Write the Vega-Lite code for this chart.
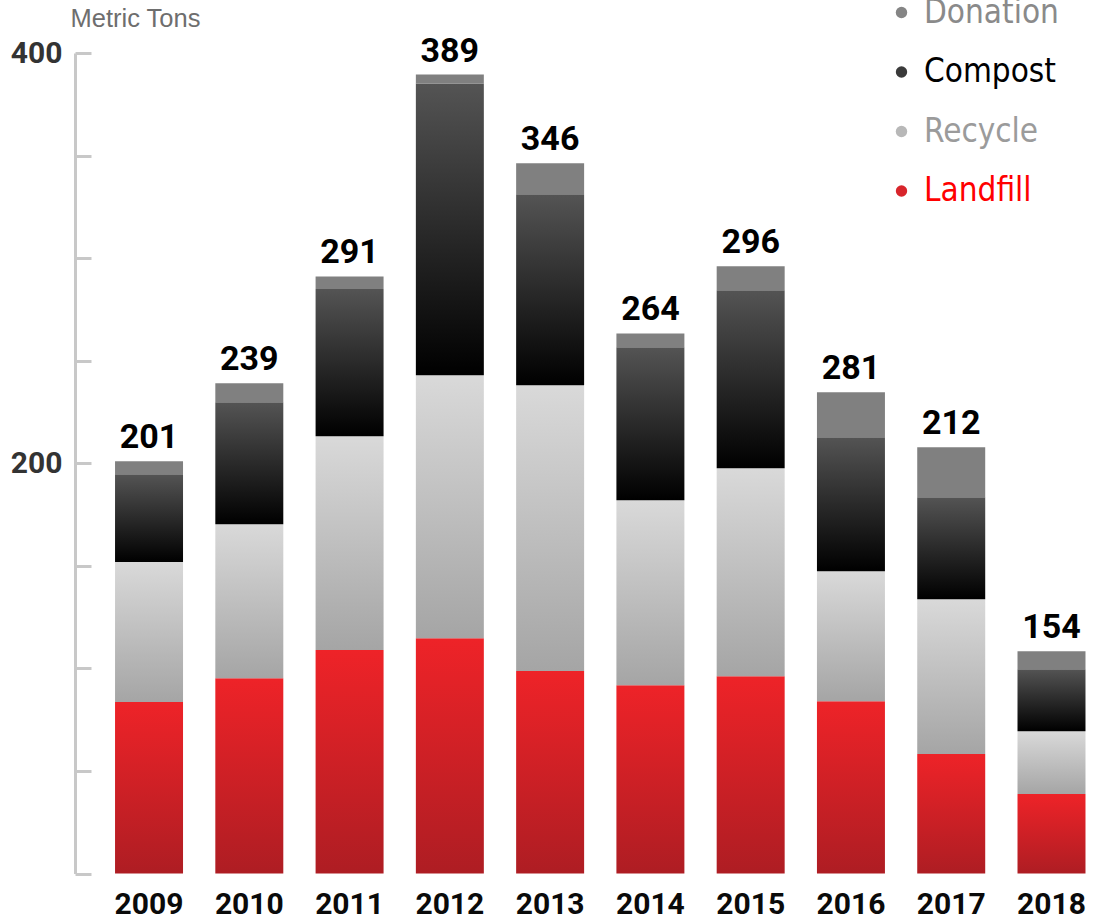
{
  "$schema": "https://vega.github.io/schema/vega-lite/v6.json",
  "width": 1025,
  "height": 820.5,
  "autosize": {"type": "none"},
  "padding": {"left": 75, "top": 53, "right": 5, "bottom": 46.5},
  "datasets": {
    "segments": [
      {"year": "2009", "type": "Landfill", "order": 1, "value": 83.6},
      {"year": "2009", "type": "Recycle", "order": 2, "value": 68.2},
      {"year": "2009", "type": "Compost", "order": 3, "value": 42.8},
      {"year": "2009", "type": "Donation", "order": 4, "value": 6.4},
      {"year": "2010", "type": "Landfill", "order": 1, "value": 95.2},
      {"year": "2010", "type": "Recycle", "order": 2, "value": 75.1},
      {"year": "2010", "type": "Compost", "order": 3, "value": 59.4},
      {"year": "2010", "type": "Donation", "order": 4, "value": 9.3},
      {"year": "2011", "type": "Landfill", "order": 1, "value": 108.9},
      {"year": "2011", "type": "Recycle", "order": 2, "value": 104.3},
      {"year": "2011", "type": "Compost", "order": 3, "value": 71.7},
      {"year": "2011", "type": "Donation", "order": 4, "value": 6.2},
      {"year": "2012", "type": "Landfill", "order": 1, "value": 114.7},
      {"year": "2012", "type": "Recycle", "order": 2, "value": 128.2},
      {"year": "2012", "type": "Compost", "order": 3, "value": 142.2},
      {"year": "2012", "type": "Donation", "order": 4, "value": 4.4},
      {"year": "2013", "type": "Landfill", "order": 1, "value": 98.7},
      {"year": "2013", "type": "Recycle", "order": 2, "value": 139.3},
      {"year": "2013", "type": "Compost", "order": 3, "value": 93.1},
      {"year": "2013", "type": "Donation", "order": 4, "value": 15.1},
      {"year": "2014", "type": "Landfill", "order": 1, "value": 91.8},
      {"year": "2014", "type": "Recycle", "order": 2, "value": 90.2},
      {"year": "2014", "type": "Compost", "order": 3, "value": 74.5},
      {"year": "2014", "type": "Donation", "order": 4, "value": 6.8},
      {"year": "2015", "type": "Landfill", "order": 1, "value": 96.2},
      {"year": "2015", "type": "Recycle", "order": 2, "value": 101.4},
      {"year": "2015", "type": "Compost", "order": 3, "value": 86.7},
      {"year": "2015", "type": "Donation", "order": 4, "value": 11.7},
      {"year": "2016", "type": "Landfill", "order": 1, "value": 84.0},
      {"year": "2016", "type": "Recycle", "order": 2, "value": 63.4},
      {"year": "2016", "type": "Compost", "order": 3, "value": 65.3},
      {"year": "2016", "type": "Donation", "order": 4, "value": 21.9},
      {"year": "2017", "type": "Landfill", "order": 1, "value": 58.2},
      {"year": "2017", "type": "Recycle", "order": 2, "value": 75.5},
      {"year": "2017", "type": "Compost", "order": 3, "value": 49.7},
      {"year": "2017", "type": "Donation", "order": 4, "value": 24.4},
      {"year": "2018", "type": "Landfill", "order": 1, "value": 38.7},
      {"year": "2018", "type": "Recycle", "order": 2, "value": 30.7},
      {"year": "2018", "type": "Compost", "order": 3, "value": 30.2},
      {"year": "2018", "type": "Donation", "order": 4, "value": 8.8}
    ],
    "totals": [
      {"year": "2009", "label": "201"},
      {"year": "2010", "label": "239"},
      {"year": "2011", "label": "291"},
      {"year": "2012", "label": "389"},
      {"year": "2013", "label": "346"},
      {"year": "2014", "label": "264"},
      {"year": "2015", "label": "296"},
      {"year": "2016", "label": "281"},
      {"year": "2017", "label": "212"},
      {"year": "2018", "label": "154"}
    ]
  },
  "data": {"name": "segments"},
  "layer": [
    {
      "transform": [
        {
          "stack": "value",
          "groupby": ["year"],
          "sort": [{"field": "order", "order": "ascending"}],
          "as": ["v0", "v1"]
        }
      ],
      "encoding": {
        "x": {
          "field": "year",
          "type": "ordinal",
          "title": null,
          "scale": {"paddingInner": 0.322, "paddingOuter": 0.272, "align": 0.734},
          "axis": {
            "title": null,
            "domain": false,
            "ticks": false,
            "labelAngle": 0,
            "labelFont": "Roboto",
            "labelFontWeight": "bold",
            "labelFontSize": 30,
            "labelColor": "#0a0a0a",
            "labelPadding": 16
          }
        },
        "y": {
          "field": "v1",
          "type": "quantitative",
          "title": "Metric Tons",
          "scale": {"domain": [0, 400], "nice": false},
          "axis": {
            "values": [0, 50, 100, 150, 200, 250, 300, 350, 400],
            "labelExpr": "datum.value == 200 || datum.value == 400 ? datum.label : ''",
            "grid": false,
            "domainColor": "#c8c8c8",
            "domainWidth": 3,
            "tickColor": "#c8c8c8",
            "tickWidth": 3,
            "tickSize": -16,
            "labelFont": "Roboto",
            "labelFontWeight": "bold",
            "labelFontSize": 30,
            "labelColor": "#333333",
            "labelPadding": 29,
            "labelBaseline": "middle",
            "title": "Metric Tons",
            "titleAngle": 0,
            "titleX": -5,
            "titleY": -27,
            "titleAlign": "left",
            "titleBaseline": "alphabetic",
            "titleFont": "Liberation Sans",
            "titleFontSize": 25.5,
            "titleFontWeight": "normal",
            "titleColor": "#6e6e6e"
          }
        },
        "y2": {"field": "v0"}
      },
      "layer": [
        {
          "transform": [{"filter": "datum.type === 'Landfill'"}],
          "mark": {
            "type": "bar",
            "fill": {
              "gradient": "linear", "x1": 0, "y1": 0, "x2": 0, "y2": 1,
              "stops": [{"offset": 0, "color": "#ee2328"}, {"offset": 1, "color": "#ae1d23"}]
            }
          }
        },
        {
          "transform": [{"filter": "datum.type === 'Recycle'"}],
          "mark": {
            "type": "bar",
            "fill": {
              "gradient": "linear", "x1": 0, "y1": 0, "x2": 0, "y2": 1,
              "stops": [{"offset": 0, "color": "#d9d9d9"}, {"offset": 1, "color": "#a5a5a5"}]
            }
          }
        },
        {
          "transform": [{"filter": "datum.type === 'Compost'"}],
          "mark": {
            "type": "bar",
            "fill": {
              "gradient": "linear", "x1": 0, "y1": 0, "x2": 0, "y2": 1,
              "stops": [{"offset": 0, "color": "#545454"}, {"offset": 1, "color": "#000000"}]
            }
          }
        },
        {
          "transform": [{"filter": "datum.type === 'Donation'"}],
          "mark": {"type": "bar", "fill": "#808080"}
        }
      ]
    },
    {
      "mark": {"type": "point", "filled": true, "opacity": 0},
      "encoding": {
        "x": {"field": "year", "type": "ordinal", "title": null},
        "y": {"field": "value", "type": "quantitative", "title": "Metric Tons"},
        "color": {
          "field": "type",
          "type": "nominal",
          "scale": {
            "domain": ["Donation", "Compost", "Recycle", "Landfill"],
            "range": ["#858585", "#3a3a3a", "#b8b8b8", "#d8252b"]
          },
          "legend": {
            "title": null,
            "orient": "none",
            "legendX": 810,
            "legendY": -57,
            "direction": "vertical",
            "padding": 0,
            "symbolType": "circle",
            "symbolSize": 130,
            "symbolOpacity": 1,
            "symbolStrokeWidth": 0,
            "labelFont": "DejaVu Sans Condensed",
            "labelFontSize": 33,
            "labelOffset": 6,
            "labelLimit": 300,
            "rowPadding": 25.5,
            "encode": {
              "symbols": {"update": {"opacity": {"value": 1}}},
              "labels": {
                "update": {
                  "fill": {
                    "signal": "datum.value === 'Landfill' ? '#ff0000' : datum.value === 'Recycle' ? '#9b9b9b' : datum.value === 'Compost' ? '#000000' : '#8a8a8a'"
                  }
                }
              }
            }
          }
        }
      }
    },
    {
      "transform": [
        {"aggregate": [{"op": "sum", "field": "value", "as": "total"}], "groupby": ["year"]},
        {"lookup": "year", "from": {"data": {"name": "totals"}, "key": "year", "fields": ["label"]}}
      ],
      "mark": {
        "type": "text",
        "font": "Roboto",
        "fontWeight": "bold",
        "fontSize": 34,
        "color": "#000000",
        "baseline": "alphabetic",
        "dy": -13
      },
      "encoding": {
        "x": {"field": "year", "type": "ordinal", "title": null},
        "y": {"field": "total", "type": "quantitative", "title": "Metric Tons"},
        "text": {"field": "label"}
      }
    }
  ],
  "config": {
    "view": {"stroke": null},
    "font": "Liberation Sans"
  }
}
